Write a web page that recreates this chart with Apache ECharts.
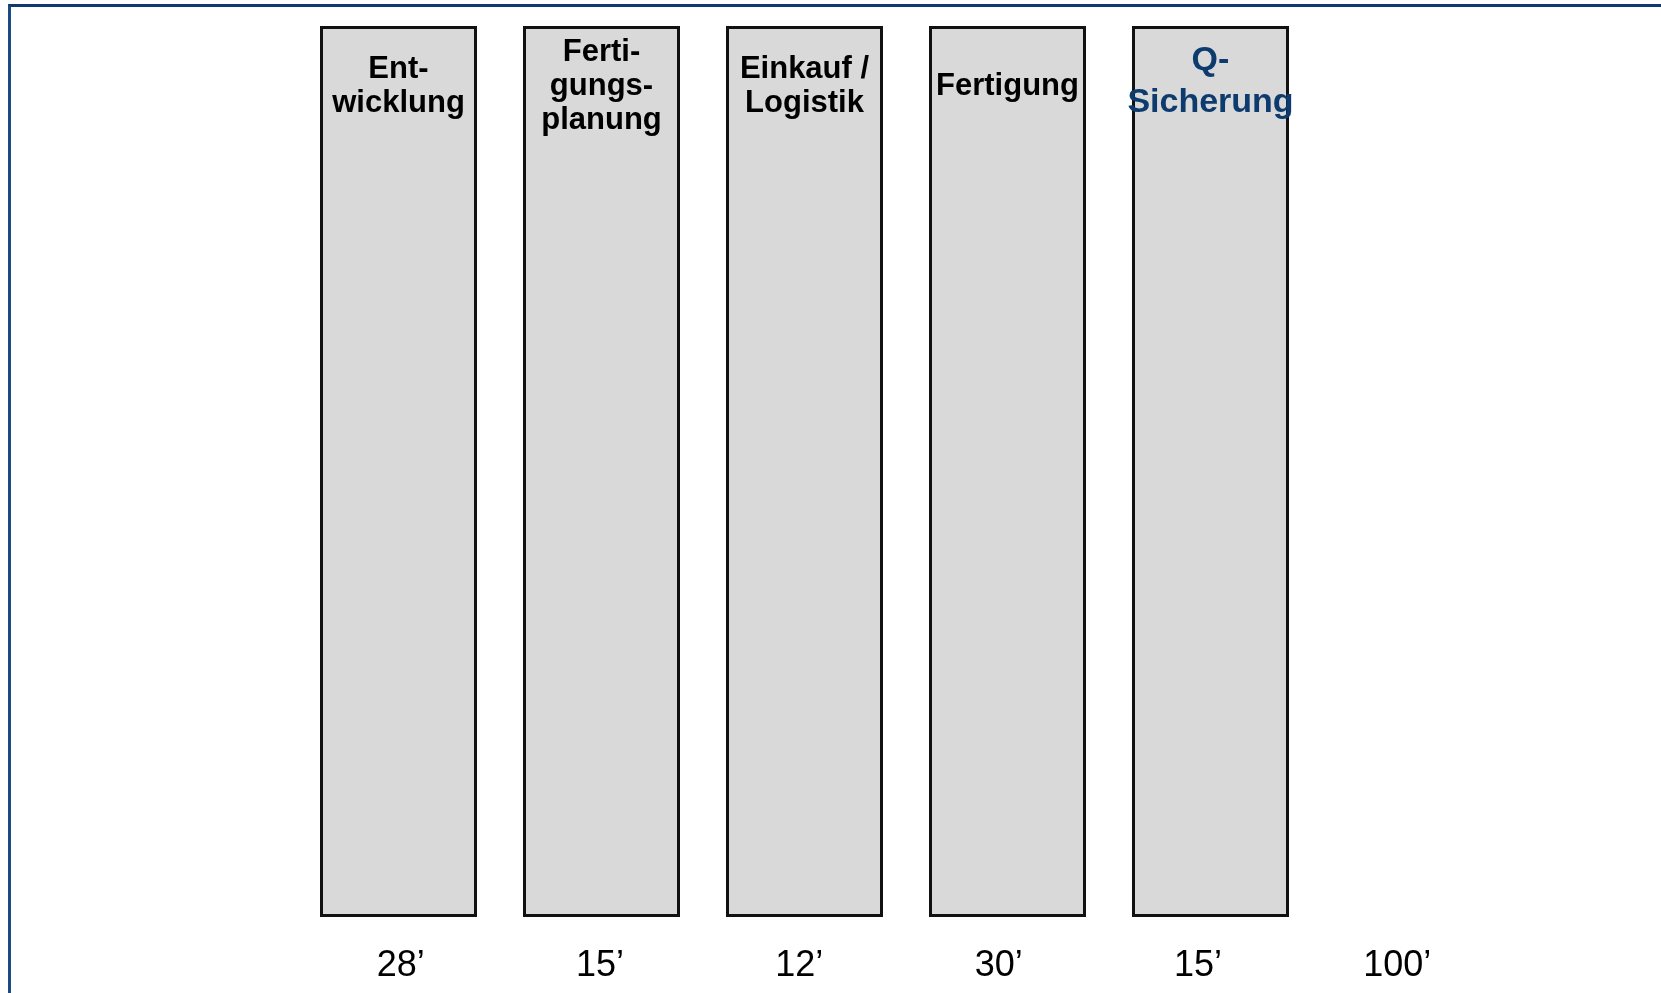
<!DOCTYPE html>
<html>
<head>
<meta charset="utf-8">
<title>Durchlaufzeit je Bereich</title>
<script src="https://cdn.jsdelivr.net/npm/echarts@6/dist/echarts.min.js"></script>
<style>
  html, body {
    margin: 0;
    padding: 0;
    background: #fff;
    overflow: hidden;
  }
  #chart {
    width: 1661px;
    height: 993px;
  }
  /* dunkelblauer Rahmen oben/links */
  .frame {
    position: absolute;
    left: 8px;
    top: 4px;
    width: 1700px;
    height: 1100px;
    border-top: 3px solid #0c3b6c;
    border-left: 3px solid #1b4b80;
    pointer-events: none;
  }
</style>
</head>
<body>
<div id="chart"></div>
<div class="frame"></div>
<script>
  // Bereiche (Säulen) und Zeiten darunter
  const categories = ['Ent-\nwicklung', 'Ferti-\ngungs-\nplanung', 'Einkauf /\nLogistik', 'Fertigung', 'Q-\nSicherung'];
  const barHeights = [1, 1, 1, 1, 1];
  const durations = ['28’', '15’', '12’', '30’', '15’', '100’'];
  const blueCategory = 'Q-\nSicherung';

  const chart = echarts.init(document.getElementById('chart'));

  chart.setOption({
    animation: false,
    grid: [
      {left: 297, right: 349, top: 26, bottom: 76},   // Säulen
      {left: 301, right: 164, top: 26, bottom: 76},   // Zeiten
    ],
    xAxis: [
      {
        type: 'category',
        gridIndex: 0,
        data: categories,
        axisLine: {show: false},
        axisTick: {show: false},
        axisLabel: {show: false},
      },
      {
        type: 'category',
        gridIndex: 1,
        data: durations,
        axisLine: {show: false},
        axisTick: {show: false},
        axisLabel: {
          margin: 49,
          verticalAlign: 'middle',
          fontFamily: '"Liberation Sans", Arial, sans-serif',
          fontSize: 36,
          color: '#000',
        },
      },
    ],
    yAxis: [
      {type: 'value', gridIndex: 0, min: 0, max: 1, show: false},
      {type: 'value', gridIndex: 1, min: 0, max: 1, show: false},
    ],
    series: [
      {
        type: 'bar',
        xAxisIndex: 0,
        yAxisIndex: 0,
        barWidth: 157,
        itemStyle: {
          color: '#d9d9d9',
          borderColor: '#111',
          borderWidth: 3,
        },
        label: {
          show: true,
          formatter: '{b}',
          position: ['50%', 60],
          align: 'center',
          verticalAlign: 'middle',
          fontFamily: '"Liberation Sans Narrow", "Liberation Sans", Arial, sans-serif',
          fontWeight: 'bold',
          fontSize: 31,
          lineHeight: 34,
          color: '#000',
        },
        data: categories.map((name, i) => {
          if (name !== blueCategory) {
            return barHeights[i];
          }
          return {
            value: barHeights[i],
            label: {
              position: ['50%', 56],
              fontFamily: '"Liberation Sans", Arial, sans-serif',
              fontSize: 34,
              lineHeight: 42,
              color: '#0d3b6e',
            },
          };
        }),
      },
    ],
  });
</script>
</body>
</html>
